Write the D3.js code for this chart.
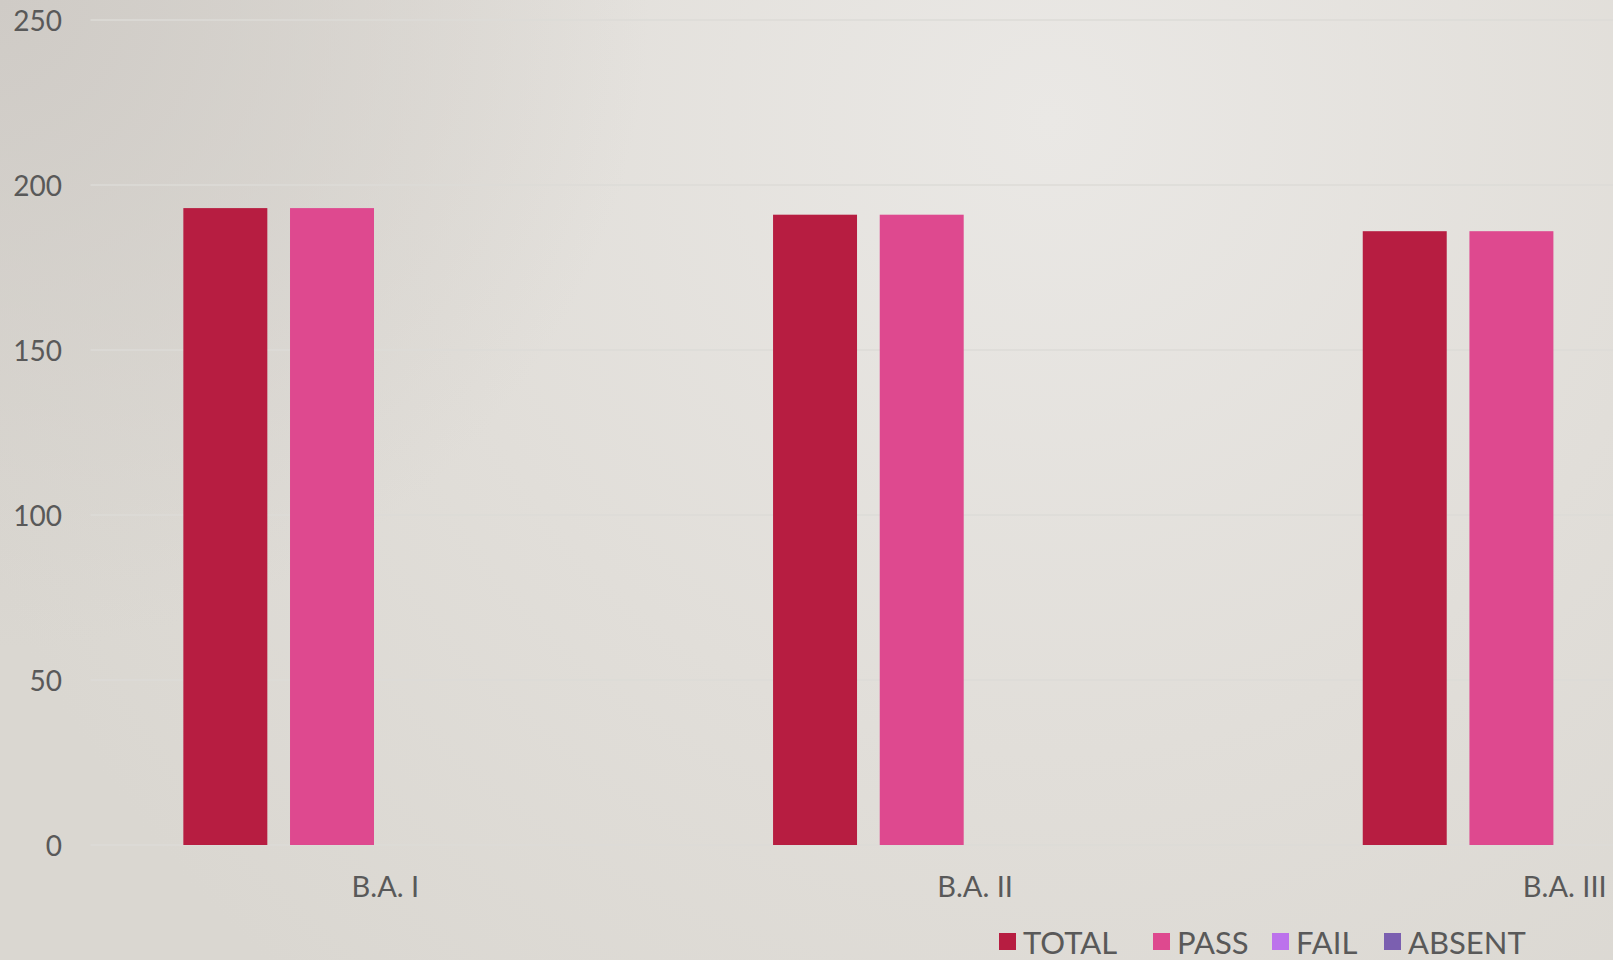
<!DOCTYPE html>
<html>
<head>
<meta charset="utf-8">
<script src="https://cdn.jsdelivr.net/npm/d3@7"></script>
<style>
  html, body { margin: 0; padding: 0; overflow: hidden; }
  svg { display: block; }
  text { font-family: Lato, "Open Sans", sans-serif; fill: #595959; }
</style>
</head>
<body>
<script>
// ---- data ----
const categories = ["B.A. I", "B.A. II", "B.A. III"];
const seriesNames = ["TOTAL", "PASS", "FAIL", "ABSENT"];
const totalValues = [193, 191, 186];
const passValues = [193, 191, 186];
const failValues = [0, 0, 0];
const absentValues = [0, 0, 0];
const seriesColors = ["#B71D41", "#DE498F", "#BC72EC", "#7B5FB0"];
const yTicks = [0, 50, 100, 150, 200, 250];

const seriesValues = [totalValues, passValues, failValues, absentValues];

// ---- layout ----
const W = 1613, H = 960;
const plotLeft = 90.5, plotTop = 20, plotBottom = 845;
const groupStep = 589.7;
const plotRight = plotLeft + groupStep * categories.length;
const legendX = [999, 1153, 1272, 1384];

const svg = d3.select("body").append("svg").attr("width", W).attr("height", H);

// background
const defs = svg.append("defs");
const rg = defs.append("radialGradient").attr("id", "bg")
  .attr("gradientUnits", "userSpaceOnUse")
  .attr("cx", 1050).attr("cy", 120).attr("r", 1150);
rg.append("stop").attr("offset", "0").attr("stop-color", "#EAE8E5");
rg.append("stop").attr("offset", "0.55").attr("stop-color", "#E1DED9");
rg.append("stop").attr("offset", "1").attr("stop-color", "#DAD7D1");
const rg2 = defs.append("radialGradient").attr("id", "tl")
  .attr("gradientUnits", "userSpaceOnUse")
  .attr("cx", 0).attr("cy", 0).attr("r", 650);
rg2.append("stop").attr("offset", "0").attr("stop-color", "#CFCBC6").attr("stop-opacity", 1);
rg2.append("stop").attr("offset", "1").attr("stop-color", "#CFCBC6").attr("stop-opacity", 0);
svg.append("rect").attr("width", W).attr("height", H).attr("fill", "url(#bg)");
svg.append("rect").attr("width", W).attr("height", H).attr("fill", "url(#tl)");

// scales
const x0 = d3.scaleBand().domain(categories).range([plotLeft, plotRight]).padding(0);
const innerWidth = 404;
const innerOffset = (groupStep - innerWidth) / 2;
const x1 = d3.scaleBand().domain(seriesNames)
  .range([innerOffset, innerOffset + innerWidth]).paddingInner(0.2128).paddingOuter(0);
const y = d3.scaleLinear().domain([0, 250]).range([plotBottom, plotTop]);

// gridlines
svg.append("g").selectAll("line").data(yTicks).join("line")
  .attr("x1", plotLeft).attr("x2", plotRight)
  .attr("y1", d => y(d)).attr("y2", d => y(d))
  .attr("stroke", "#DDDBD7").attr("stroke-width", 1.5);

// y axis labels
const yAxis = d3.axisLeft(y).tickValues(yTicks).tickSize(0).tickPadding(0);
const gy = svg.append("g").attr("transform", "translate(62,0)").call(yAxis);
gy.select(".domain").remove();
gy.selectAll("text").attr("font-size", 28).attr("fill", "#595959")
  .style("font-family", "Lato, 'Open Sans', sans-serif").attr("dy", "0.36em");

// x axis labels
const xAxis = d3.axisBottom(x0).tickSize(0).tickPadding(0);
const gx = svg.append("g").attr("transform", `translate(0,${plotBottom})`).call(xAxis);
gx.select(".domain").remove();
gx.selectAll("text").attr("font-size", 29).attr("fill", "#595959")
  .style("font-family", "Lato, 'Open Sans', sans-serif").attr("y", 52).attr("dy", 0);

// bars
const groups = svg.append("g").selectAll("g").data(categories).join("g")
  .attr("transform", d => `translate(${x0(d)},0)`);
groups.selectAll("rect")
  .data((c, ci) => seriesNames.map((s, si) => ({ s, si, v: seriesValues[si][ci] })))
  .join("rect")
  .attr("x", d => x1(d.s))
  .attr("width", x1.bandwidth())
  .attr("y", d => y(d.v))
  .attr("height", d => y(0) - y(d.v))
  .attr("fill", d => seriesColors[d.si]);

// legend
const legend = svg.append("g").attr("transform", "translate(0,954)");
const items = legend.selectAll("g").data(seriesNames).join("g")
  .attr("transform", (d, i) => `translate(${legendX[i]},0)`);
items.append("rect").attr("x", 0).attr("y", -21).attr("width", 17).attr("height", 17)
  .attr("fill", (d, i) => seriesColors[i]);
items.append("text").attr("x", 24).attr("y", 0).attr("font-size", 31).text(d => d);
</script>
</body>
</html>
